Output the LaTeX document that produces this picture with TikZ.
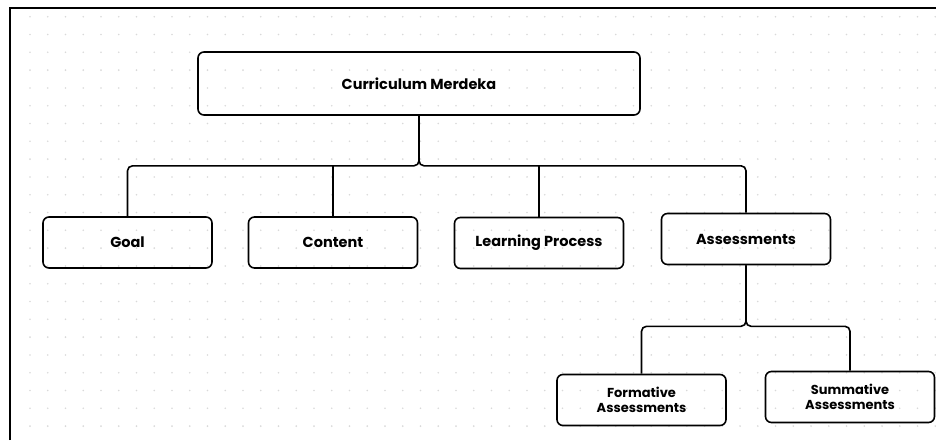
\documentclass[tikz,border=0pt]{standalone}
\usepackage{fontspec}
\setmainfont{Poppins}
\usetikzlibrary{positioning}
\tikzset{
  font=\bfseries\fontsize{14.5}{15.5}\selectfont,
  box/.style      = {rectangle, draw, line width=1.6pt, rounded corners=6pt,
                     minimum width=169pt, minimum height=51pt,
                     inner sep=2pt, align=center},
  rootbox/.style  = {box, minimum width=442pt, minimum height=63pt},
  leafbox/.style  = {box, font=\bfseries\fontsize{13}{15}\selectfont},
  link/.style     = {line width=1.6pt, rounded corners=5pt},
  griddot/.style  = {fill=gray!30}
}
\begin{document}
\begin{tikzpicture}[x=1pt,y=-1pt]
  \useasboundingbox (0,0) rectangle (936,440);
  % dotted paper
  \foreach \i in {0,...,51}
    \foreach \j in {0,...,23}
      \fill[griddot] (30+17.75*\i, 16.7+17.8*\j) circle (0.9pt);
  % frame
  \draw[line width=1.6pt] (10,440) -- (10,8) -- (936,8);
  % boxes
  \node[rootbox] (root) at (419,83.5) {Curriculum Merdeka};
  \node[box] (goal) at (127.5,242.5) {Goal};
  \node[box] (content) at (333,242.5) {Content};
  \node[box] (learning) at (539,243) {Learning Process};
  \node[box] (assess) at (746,239) {Assessments};
  \node[leafbox] (formative) at (641.5,400) {Formative\\Assessments};
  \node[leafbox] (summative) at (850,397) {Summative\\Assessments};
  % forks
  \coordinate[below=50pt of root.south] (fork1);
  \coordinate[below=61pt of assess.south] (fork2);
  % connectors
  \draw[link] (root.south) -- (fork1) -| (goal.north);
  \draw[link] (root.south) -- (fork1) -| (assess.north);
  \draw[link] (fork1 -| content.north) -- (content.north);
  \draw[link] (fork1 -| learning.north) -- (learning.north);
  \draw[link] (assess.south) -- (fork2) -| (formative.north);
  \draw[link] (assess.south) -- (fork2) -| (summative.north);
\end{tikzpicture}
\end{document}
